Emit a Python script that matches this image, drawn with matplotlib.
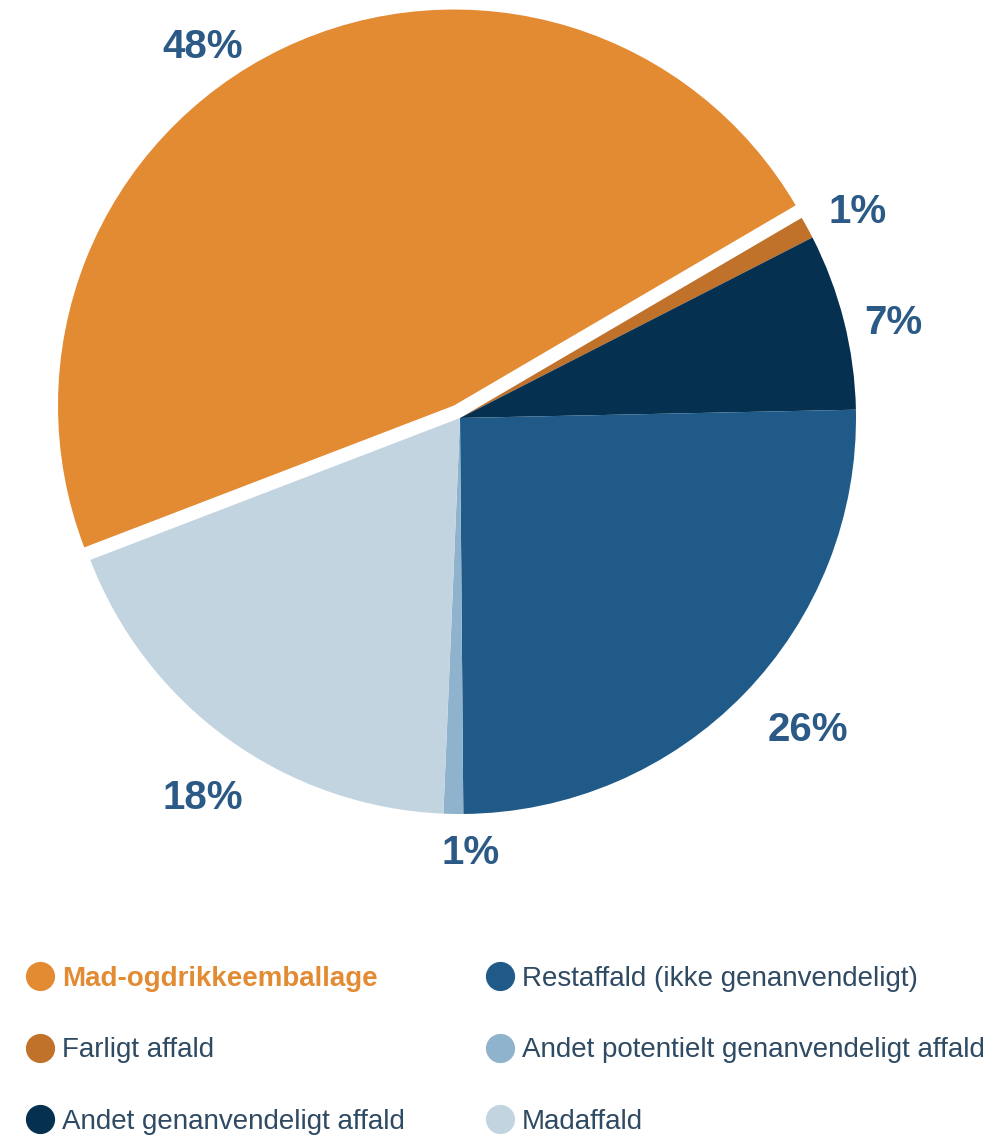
import numpy as np
import matplotlib.pyplot as plt
from matplotlib.lines import Line2D

plt.rcParams['font.family'] = ['Liberation Sans', 'DejaVu Sans']

kategorier = ['Mad-ogdrikkeemballage', 'Farligt affald', 'Andet genanvendeligt affald',
              'Restaffald (ikke genanvendeligt)', 'Andet potentielt genanvendeligt affald',
              'Madaffald']
andele = [47.4, 0.9, 7.2, 25.2, 0.8, 18.5]
etiketter = ['48%', '1%', '7%', '26%', '1%', '18%']
farver = ['#E38B32', '#C0712A', '#06304F', '#1F5A88', '#8FB2CD', '#C3D4E1']
explode = [0.035, 0, 0, 0, 0, 0]

# label placement: (angle shift in degrees, radius) relative to the wedge middle
label_shift = [9, -1.3, -1.8, 2.3, 2.3, 1.6]
label_radius = [1.14, 1.13, 1.12, 1.18, 1.1, 1.16]

fig = plt.figure(figsize=(9.98, 11.43), dpi=100)
# pie centre ~ (460, 418) px, radius ~ 396 px
ax = fig.add_axes([(460 - 495) / 998, (1143 - 418 - 495) / 1143, 990 / 998, 990 / 1143])

wedges, _ = ax.pie(andele, colors=farver, explode=explode, startangle=201,
                   counterclock=False)
for w, lab, ds, r in zip(wedges, etiketter, label_shift, label_radius):
    mid = np.deg2rad((w.theta1 + w.theta2) / 2 + ds)
    ax.text(r * np.cos(mid), r * np.sin(mid), lab, ha='center', va='center',
            color='#2A5A85', fontsize=29, fontweight='bold')

ax.set_xlim(-1.25, 1.25)
ax.set_ylim(-1.25, 1.25)
ax.set_aspect('equal')
ax.axis('off')

handles = [Line2D([], [], marker='o', linestyle='', markersize=20,
                  markerfacecolor=c, markeredgecolor=c) for c in farver]
leg = fig.legend(handles, kategorier, ncol=2, loc='upper left',
                 bbox_to_anchor=(0.011, 0.165), frameon=False, fontsize=20,
                 handletextpad=0.15, columnspacing=2.75, labelspacing=1.65,
                 handlelength=1.3, borderaxespad=0)
for t in leg.get_texts():
    t.set_color('#2F4A63')
leg.get_texts()[0].set_color('#E38B32')
leg.get_texts()[0].set_fontweight('bold')

fig.savefig('out.png', dpi=100)
